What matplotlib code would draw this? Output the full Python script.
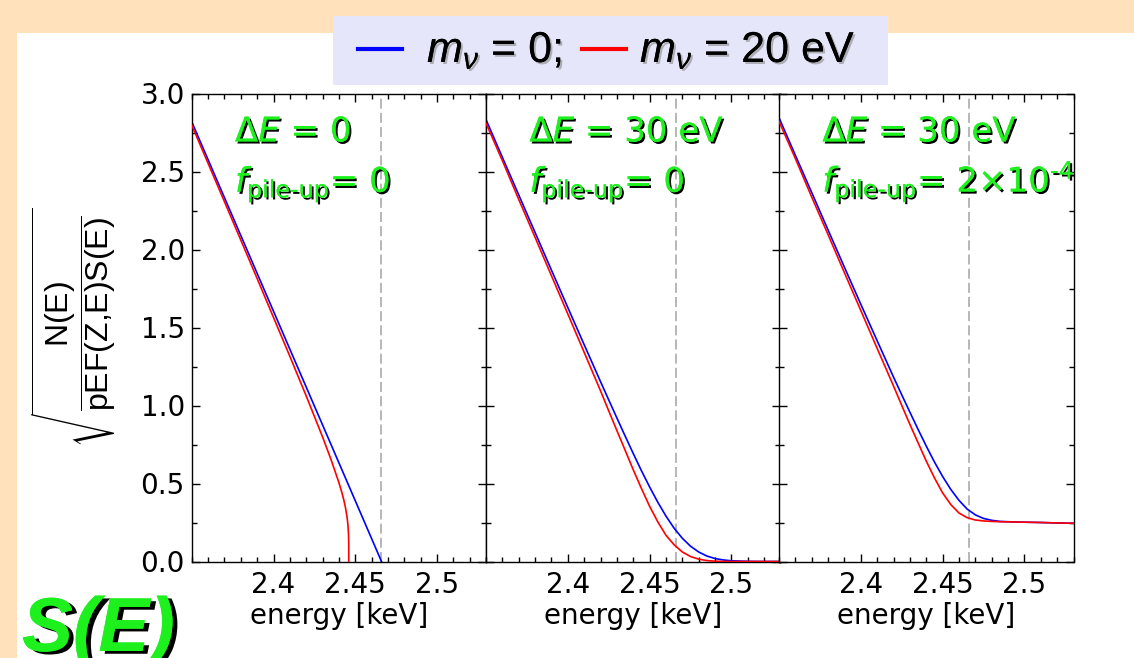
import matplotlib
matplotlib.use('Agg')
import matplotlib.pyplot as plt
import matplotlib.patheffects as pe
from matplotlib.patches import Rectangle
from matplotlib.lines import Line2D
from matplotlib.ticker import MultipleLocator, FixedLocator, FixedFormatter, FormatStrFormatter

plt.rcParams['font.family'] = ['DejaVu Sans']
plt.rcParams['mathtext.fontset'] = 'custom'
plt.rcParams['mathtext.rm'] = 'Liberation Sans'
plt.rcParams['mathtext.it'] = 'Liberation Sans:italic'
plt.rcParams['mathtext.bf'] = 'Liberation Sans:bold'
plt.rcParams['mathtext.sf'] = 'Liberation Sans'

# ---------------- data ----------------
endpoint = 2.466
x_limits = (2.35, 2.53)
y_limits = (0.0, 3.0)
x_major = [2.4, 2.45, 2.5]
x_major_labels = ['2.4', '2.45', '2.5']

panel_dE = ['0', '30 eV', '30 eV']
panel_fpu = ['0', '0', r'2$\times$10$^{\text{-4}}$']

# panel 1 : no resolution, no pile-up
e1_blue = [2.35, 2.38, 2.41, 2.44, 2.466]
k1_blue = [2.819, 2.090, 1.361, 0.632, 0.0]
e1_red = [2.35, 2.37, 2.39, 2.41, 2.42, 2.43, 2.435, 2.44, 2.442, 2.443,
          2.444, 2.445, 2.4455, 2.4458, 2.4459, 2.44598, 2.446]
k1_red = [2.798, 2.307, 1.814, 1.315, 1.061, 0.798, 0.658, 0.505, 0.434, 0.393,
          0.345, 0.282, 0.233, 0.184, 0.154, 0.103, 0.0]

# panels 2 and 3 share an energy grid
e_grid = [2.35, 2.36, 2.37, 2.38, 2.39, 2.40, 2.41, 2.42, 2.425, 2.43, 2.435,
          2.44, 2.445, 2.45, 2.455, 2.46, 2.465, 2.47, 2.475, 2.48, 2.485,
          2.49, 2.495, 2.50, 2.51, 2.52, 2.53]
k2_blue = [2.833, 2.591, 2.350, 2.109, 1.868, 1.628, 1.390, 1.153, 1.036, 0.920, 0.805,
           0.692, 0.582, 0.478, 0.380, 0.291, 0.213, 0.149, 0.098, 0.061, 0.035,
           0.019, 0.010, 0.0045, 0.001, 0.0, 0.0]
k2_red = [2.810, 2.570, 2.321, 2.078, 1.832, 1.587, 1.341, 1.094, 0.966, 0.839, 0.714,
          0.588, 0.468, 0.354, 0.254, 0.168, 0.107, 0.061, 0.032, 0.015, 0.006,
          0.002, 0.0005, 0.0, 0.0, 0.0, 0.0]
k3_blue = [2.845, 2.604, 2.365, 2.125, 1.886, 1.649, 1.415, 1.182, 1.069, 0.957, 0.847,
           0.740, 0.638, 0.545, 0.462, 0.392, 0.336, 0.299, 0.276, 0.264, 0.257,
           0.255, 0.253, 0.252, 0.250, 0.247, 0.245]
k3_red = [2.822, 2.583, 2.336, 2.095, 1.851, 1.609, 1.366, 1.125, 1.001, 0.879, 0.761,
          0.644, 0.536, 0.440, 0.365, 0.311, 0.281, 0.266, 0.260, 0.257, 0.255,
          0.254, 0.253, 0.252, 0.250, 0.247, 0.245]

panels = [
    (e1_blue, k1_blue, e1_red, k1_red),
    (e_grid, k2_blue, e_grid, k2_red),
    (e_grid, k3_blue, e_grid, k3_red),
]

# ---------------- style ----------------
PEACH = '#FFE1BB'
LAVENDER = '#E6E6FA'
GREEN = '#1EF01E'
BLUE = '#0000FF'
RED = '#FF0000'

W, H = 1134, 658
fig = plt.figure(figsize=(W / 100, H / 100), dpi=100, facecolor=PEACH)

fig.add_artist(Rectangle((17 / W, 0), 1 - 17 / W, 1 - 33 / H, transform=fig.transFigure,
                         facecolor='white', edgecolor='none', zorder=-2))
fig.add_artist(Rectangle((333 / W, 1 - 85 / H), 555 / W, 69 / H, transform=fig.transFigure,
                         facecolor=LAVENDER, edgecolor='none', zorder=-1))

green_fx = [pe.withSimplePatchShadow(offset=(1.5, -1.5), shadow_rgbFace='black', alpha=1.0),
            pe.Normal()]

ax_left = [191.7, 486.0, 779.0]
ax_w = 294.5
ax_bottom = 1 - 561.5 / H
ax_h = (561.5 - 93.5) / H

for i, (eb, kb, er, kr) in enumerate(panels):
    ax = fig.add_axes([ax_left[i] / W, ax_bottom, ax_w / W, ax_h])
    ax.set_facecolor('white')
    ax.axvline(endpoint, color='#AAAAAA', lw=1.2, ls=(0, (6, 2.5)), zorder=1)
    ax.plot(eb, kb, color=BLUE, lw=1.2, zorder=2)
    ax.plot(er, kr, color=RED, lw=1.2, zorder=3)
    ax.set_xlim(*x_limits)
    ax.set_ylim(*y_limits)
    ax.xaxis.set_major_locator(FixedLocator(x_major))
    ax.xaxis.set_major_formatter(FixedFormatter(x_major_labels))
    ax.xaxis.set_minor_locator(MultipleLocator(0.01))
    ax.yaxis.set_major_locator(MultipleLocator(0.5))
    ax.yaxis.set_minor_locator(MultipleLocator(0.25))
    ax.yaxis.set_major_formatter(FormatStrFormatter('%.1f'))
    ax.tick_params(which='both', direction='in', top=True, right=True, width=1.0,
                   labelsize=20, colors='black')
    ax.tick_params(which='major', length=6)
    ax.tick_params(which='minor', length=3.3)
    ax.tick_params(axis='x', which='major', pad=7)
    ax.tick_params(axis='y', which='major', pad=5)
    if i > 0:
        ax.tick_params(axis='y', labelleft=False)
    for sp in ax.spines.values():
        sp.set_linewidth(1.0)
    ax.set_xlabel('energy [keV]', fontsize=20, labelpad=2)

    ax.text(0.147, 0.897, r'$\mathit{\Delta E}$ = ' + panel_dE[i], transform=ax.transAxes,
            fontsize=24.5, color=GREEN, va='baseline', ha='left',
            math_fontfamily='dejavusans', path_effects=green_fx, zorder=5)
    ax.text(0.147, 0.790, r'$f_{\text{pile-up}}$= ' + panel_fpu[i], transform=ax.transAxes,
            fontsize=24.5, color=GREEN, va='baseline', ha='left',
            math_fontfamily='dejavusans', path_effects=green_fx, zorder=5)

# y label
fig.text(74 / W, 1 - 328 / H,
         r'$\sqrt{\dfrac{\mathrm{N(E)}}{\mathrm{pEF(Z{,}E)S(E)}}}$',
         rotation=90, ha='center', va='center', fontsize=23)

# legend
leg_fx = [pe.withSimplePatchShadow(offset=(1.5, -1.5), shadow_rgbFace='#888888', alpha=0.6),
          pe.Normal()]
fig.add_artist(Line2D([358 / W, 402 / W], [1 - 49 / H] * 2, transform=fig.transFigure,
                      color=BLUE, lw=3))
fig.add_artist(Line2D([582 / W, 626 / W], [1 - 49 / H] * 2, transform=fig.transFigure,
                      color=RED, lw=3))
fig.text(427 / W, 1 - 62 / H, r'$m_\nu$ = 0;', fontsize=31, family='Liberation Sans',
         va='baseline', ha='left', path_effects=leg_fx)
fig.text(640 / W, 1 - 62 / H, r'$m_\nu$ = 20 eV', fontsize=31, family='Liberation Sans',
         va='baseline', ha='left', path_effects=leg_fx)

# big S(E)
fig.text(22 / W, 1 - 651 / H, 'S(E)', fontsize=55, fontweight='bold', fontstyle='italic',
         family='Liberation Sans', color=GREEN, va='baseline', ha='left',
         path_effects=[pe.withSimplePatchShadow(offset=(3.5, -2.0), shadow_rgbFace='black',
                                                alpha=1.0), pe.Normal()])

fig.savefig('out.png', dpi=100, facecolor=PEACH)
